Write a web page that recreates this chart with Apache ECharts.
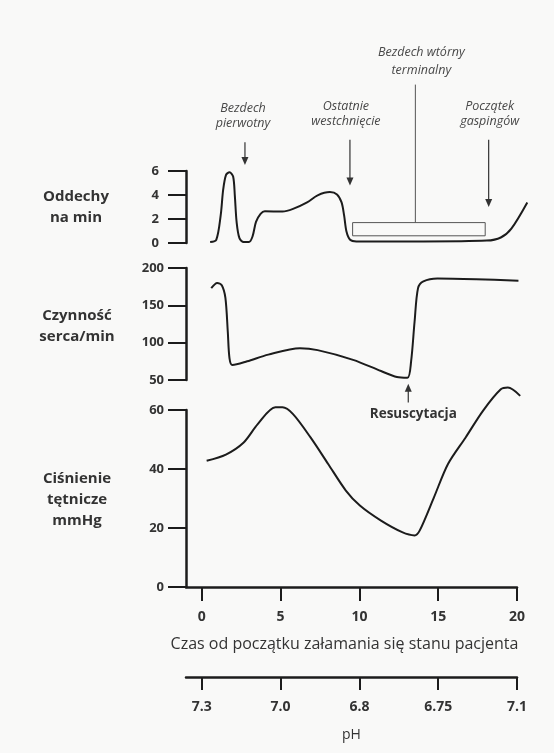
<!DOCTYPE html>
<html><head><meta charset="utf-8">
<script src="https://cdn.jsdelivr.net/npm/echarts@6/dist/echarts.min.js"></script>
<style>html,body{margin:0;padding:0;background:#f9f9f8}#c{width:554px;height:753px}</style>
</head><body><div id="c"></div>
<script>
// ---- data ----
const timeTicks = [0, 5, 10, 15, 20];
const phLabels = ['7.3', '7.0', '6.8', '6.75', '7.1'];

const respTime  = [0.53,0.92,1.2,1.36,1.54,1.76,1.99,2.1,2.21,2.39,2.66,2.99,3.22,3.44,3.73,4.0,5.12,5.79,6.68,7.35,8.13,8.58,8.87,9.03,9.18,9.41,9.81,14.05,18.08,18.97,19.64,20.65];
const respValue = [0.08,0.27,2.3,4.46,5.68,5.9,5.54,3.9,1.76,0.4,0.08,0.08,0.54,1.76,2.43,2.65,2.62,2.84,3.38,3.97,4.24,4.05,3.38,2.3,0.95,0.27,0.13,0.13,0.2,0.46,1.2,3.38];

const hrTime  = [0.6,0.98,1.27,1.5,1.65,1.76,1.94,2.88,4.22,6.23,7.35,9.6,11.37,12.38,13.05,13.28,13.5,13.72,14.06,14.95,17.4,20.09];
const hrValue = [173,180,177,160,115,79,70,75,84,92.5,90,77,62,54,53,75,128,173,182,186,185,183];

const bpTime  = [0.31,1.53,2.66,3.55,4.67,5.12,5.79,6.9,8.02,9.14,10.03,11.37,12.71,13.5,13.83,14.73,15.62,16.74,17.85,18.97,19.42,20.2];
const bpValue = [42.8,44.9,49,55.2,60.9,60.9,58.6,50.7,41.7,32.7,27.6,22.5,18.6,17.5,19.2,30.4,41.7,50.7,59.8,67,67.6,64.8];

// annotation anchors (time, value in respiration panel)
const apneaBox = [9.57, 0.6, 17.98, 1.7];       // t0, v0, t1, v1
const terminalLineT = 13.55;
const arrowPrimary = [2.74, 8.4, 6.5];          // t, vTop, vTip
const arrowLastGasp = [9.4, 8.6, 4.8];
const arrowGasping = [18.2, 8.6, 3.0];
const arrowResusc = [13.1, 20, 45];             // heart panel: t, vTail, vTip

const zip = (a, b) => a.map((x, i) => [x, b[i]]);

const chart = echarts.init(document.getElementById('c'), null, {renderer: 'canvas'});
const FONT = '"Open Sans", "Noto Sans", sans-serif';
const INK = '#1c1c1c';
const LEFT = 186, RIGHT_VIS = 37, RIGHT_WIDE = 21.2;   // x = 0..20 visible; data grids reach 21

function yAx(grid, min, max, interval, margin, show) {
  return {
    type: 'value', gridIndex: grid, min, max, interval, show: show !== false,
    axisLine: {show: true, onZero: false, lineStyle: {color: INK, width: 2.5}},
    axisTick: {show: true, length: 18, lineStyle: {color: INK, width: 2}},
    axisLabel: {color: '#333', fontWeight: 'bold', fontSize: 13, fontFamily: FONT, margin},
    splitLine: {show: false}
  };
}
const hiddenX = g => ({type: 'value', gridIndex: g, min: -1, max: 21, show: false});

const lineSeries = (xi, yi, data) => ({
  type: 'line', xAxisIndex: xi, yAxisIndex: yi, data, showSymbol: false, symbol: 'none',
  smooth: 0.3, clip: false,
  lineStyle: {color: INK, width: 2}
});

chart.setOption({
  backgroundColor: '#f9f9f8',
  animation: false,
  grid: [
    {left: LEFT, right: RIGHT_WIDE, top: 171, height: 72},
    {left: LEFT, right: RIGHT_WIDE, top: 268, height: 112},
    {left: LEFT, right: RIGHT_VIS, top: 410, height: 177},
    {left: LEFT, right: RIGHT_WIDE, top: 410, height: 177}
  ],
  xAxis: [
    hiddenX(0), hiddenX(1),
    {
      type: 'value', gridIndex: 2, min: -1, max: 20,
      axisLine: {show: true, onZero: false, lineStyle: {color: INK, width: 2.5}},
      axisTick: {show: true, customValues: timeTicks, length: 14, lineStyle: {color: INK, width: 2}},
      axisLabel: {customValues: timeTicks, color: '#333', fontWeight: 'bold', fontSize: 14, fontFamily: FONT, margin: 23},
      splitLine: {show: false},
      name: 'Czas od początku załamania się stanu pacjenta', nameLocation: 'middle', nameGap: 49,
      nameTextStyle: {color: '#333', fontSize: 16, fontFamily: FONT, padding: [0, 14, 0, 0]}
    },
    {
      type: 'value', gridIndex: 2, min: -1, max: 20, position: 'bottom', offset: 90,
      axisLine: {show: true, onZero: false, lineStyle: {color: INK, width: 2.5}},
      axisTick: {show: true, customValues: timeTicks, length: 13, lineStyle: {color: INK, width: 2}},
      axisLabel: {customValues: timeTicks, formatter: v => phLabels[timeTicks.indexOf(v)] || '',
        color: '#333', fontWeight: 'bold', fontSize: 14, fontFamily: FONT, margin: 23},
      splitLine: {show: false},
      name: 'pH', nameLocation: 'middle', nameGap: 51,
      nameTextStyle: {color: '#333', fontSize: 14, fontFamily: FONT}
    },
    hiddenX(3)
  ],
  yAxis: [
    yAx(0, 0, 6, 2, 27), yAx(1, 50, 200, 50, 22), yAx(2, 0, 60, 20, 22),
    yAx(3, 0, 60, 20, 22, false)
  ],
  series: [
    Object.assign(lineSeries(0, 0, zip(respTime, respValue)), {
      markArea: {silent: true, itemStyle: {color: 'rgba(0,0,0,0)', borderColor: '#555', borderWidth: 1},
        data: [[{coord: [apneaBox[0], apneaBox[1]]}, {coord: [apneaBox[2], apneaBox[3]]}]]}
    }),
    lineSeries(1, 1, zip(hrTime, hrValue)),
    lineSeries(4, 3, zip(bpTime, bpValue))
  ]
});

// ---- annotations, anchored through the chart's own scales ----
const P = (s, t, v) => chart.convertToPixel({seriesIndex: s}, [t, v]);
const g = [];
const TXT = {fontFamily: FONT, fontSize: 12.5, fontStyle: 'italic', fill: '#484848', textAlign: 'center', lineHeight: 15};

function downArrow(a, label, dx) {
  const top = P(0, a[0], a[1]), tip = P(0, a[0], a[2]);
  g.push({type: 'line', shape: {x1: top[0], y1: top[1], x2: tip[0], y2: tip[1] - 6}, style: {stroke: '#333', lineWidth: 1.2}});
  g.push({type: 'polygon', shape: {points: [[tip[0] - 3.5, tip[1] - 8], [tip[0] + 3.5, tip[1] - 8], [tip[0], tip[1]]]}, style: {fill: '#333'}});
  g.push({type: 'text', x: top[0] + dx, y: top[1] - 41, style: Object.assign({text: label}, TXT)});
}
downArrow(arrowPrimary, 'Bezdech\npierwotny', -2);
downArrow(arrowLastGasp, 'Ostatnie\nwestchnięcie', -4);
downArrow(arrowGasping, 'Początek\ngaspingów', 1);

// terminal apnea connector
const lt = P(0, terminalLineT, 13.2), lb = P(0, terminalLineT, apneaBox[3]);
g.push({type: 'line', shape: {x1: lt[0], y1: lt[1], x2: lb[0], y2: lb[1]}, style: {stroke: '#555', lineWidth: 1}});
g.push({type: 'text', x: lt[0] + 6, y: lt[1] - 41, style: Object.assign({text: 'Bezdech wtórny\nterminalny'}, TXT, {lineHeight: 18})});

// resuscitation arrow
const rt = P(1, arrowResusc[0], arrowResusc[1]), rh = P(1, arrowResusc[0], arrowResusc[2]);
g.push({type: 'line', shape: {x1: rt[0], y1: rt[1], x2: rh[0], y2: rh[1] + 6}, style: {stroke: '#333', lineWidth: 1.2}});
g.push({type: 'polygon', shape: {points: [[rh[0] - 3.5, rh[1] + 8], [rh[0] + 3.5, rh[1] + 8], [rh[0], rh[1]]]}, style: {fill: '#333'}});
g.push({type: 'text', x: rt[0] + 5, y: rt[1] + 5, style: {text: 'Resuscytacja', fontFamily: FONT, fontSize: 13.5, fontWeight: 'bold', fill: '#333', textAlign: 'center'}});

// panel titles
const TT = {fontFamily: FONT, fontSize: 15, fontWeight: 'bold', fill: '#333', textAlign: 'center', lineHeight: 21};
g.push({type: 'text', x: 76, y: 186, style: Object.assign({text: 'Oddechy\nna min'}, TT)});
g.push({type: 'text', x: 77, y: 305, style: Object.assign({text: 'Czynność\nserca/min'}, TT)});
g.push({type: 'text', x: 77, y: 468, style: Object.assign({text: 'Ciśnienie\ntętnicze\nmmHg'}, TT)});

chart.setOption({graphic: g});
</script>
</body></html>
